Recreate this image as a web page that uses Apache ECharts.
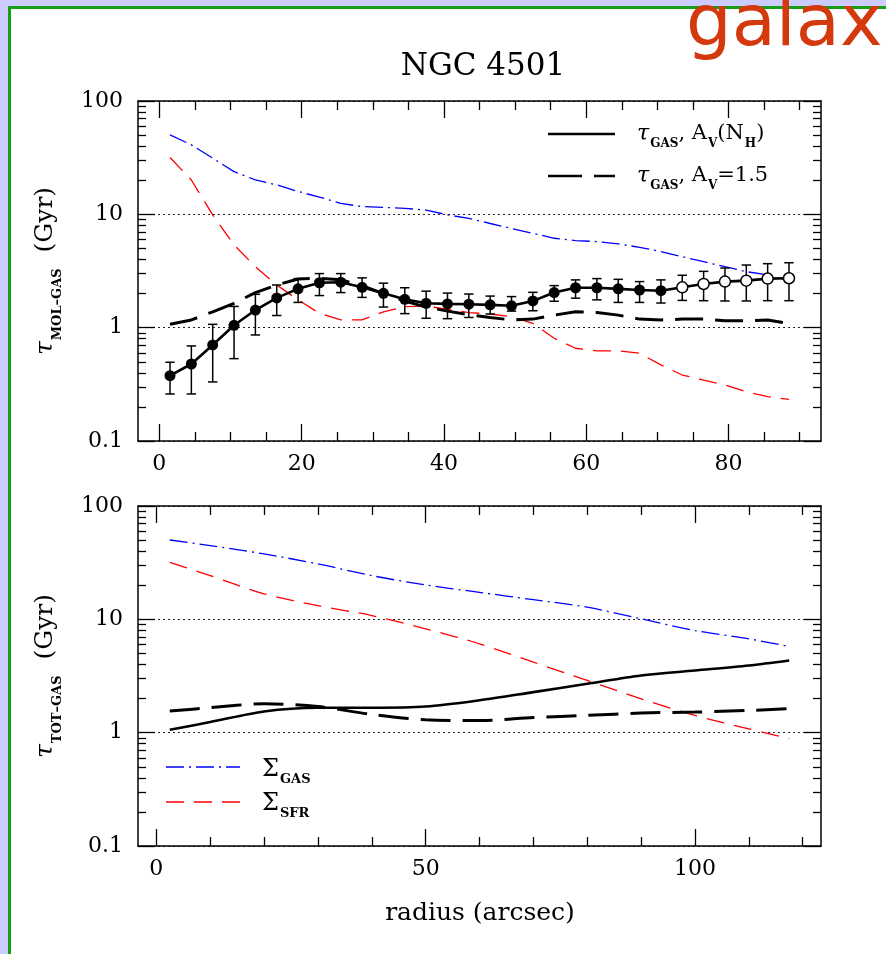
<!DOCTYPE html>
<html><head><meta charset="utf-8">
<script src="https://cdn.jsdelivr.net/npm/echarts@6/dist/echarts.min.js"></script>
<style>
html,body{margin:0;padding:0;background:#ccccff;width:886px;height:954px;overflow:hidden;}
#frame{position:absolute;left:8px;top:6px;width:875px;height:945px;background:#fff;border-left:3px solid #14a014;border-top:3px solid #14a014;}
#chart{position:absolute;left:0;top:0;width:886px;height:954px;}
</style></head>
<body><div id="frame"></div><div id="chart"></div>
<script>
// ---------- data ----------
const radiusTop = [1.5,4.5,7.5,10.5,13.5,16.5,19.5,22.5,25.5,28.5,31.5,34.5,37.5,40.5,43.5,46.5,49.5,52.5,55.5,58.5,61.5,64.5,67.5,70.5,73.5,76.5,79.5,82.5,85.5,88.5];
const tauMol = [0.377,0.478,0.704,1.05,1.43,1.83,2.20,2.49,2.52,2.27,2.01,1.78,1.64,1.62,1.61,1.59,1.56,1.72,2.04,2.25,2.25,2.20,2.15,2.12,2.27,2.43,2.55,2.60,2.71,2.73];
const tauMolLow = [0.26,0.26,0.332,0.533,0.862,1.28,1.67,1.92,2.04,1.85,1.52,1.33,1.21,1.20,1.23,1.32,1.40,1.41,1.71,1.82,1.76,1.67,1.67,1.65,1.74,1.73,1.72,1.72,1.73,1.73];
const tauMolHigh = [0.495,0.69,1.07,1.54,1.97,2.38,2.71,3.0,3.0,2.75,2.47,2.25,2.10,2.02,1.98,1.90,1.88,2.05,2.35,2.64,2.71,2.67,2.55,2.64,2.90,3.14,3.36,3.57,3.67,3.74];
const filledCount = 24; // points after this index are drawn open
const tauMolAv15 = [1.07,1.17,1.38,1.64,2.04,2.38,2.69,2.73,2.65,2.35,2.0,1.72,1.52,1.40,1.30,1.23,1.17,1.19,1.29,1.38,1.36,1.29,1.19,1.17,1.19,1.19,1.15,1.15,1.17,1.09];
const sigmaGasTop = [50.2,41,31.3,23.8,20.1,18.2,15.9,14.2,12.5,11.7,11.5,11.3,10.9,9.9,9.2,8.3,7.5,6.8,6.15,5.86,5.75,5.48,5.12,4.69,4.23,3.82,3.45,3.12,2.92,2.60];
const sigmaSfrTop = [31.7,20.1,9.9,5.37,3.45,2.38,1.76,1.34,1.17,1.17,1.38,1.53,1.55,1.45,1.36,1.32,1.25,1.09,0.806,0.658,0.623,0.625,0.594,0.469,0.382,0.345,0.312,0.272,0.246,0.233];

const radiusBot = [2.5,10,20,30,40,50,60,70,80,90,100,110,117.5];
const sigmaGasBot = [50.1,44.7,37.8,30.8,24.3,20.1,17.3,14.9,12.8,10.1,7.96,6.73,5.75];
const sigmaSfrBot = [31.8,24.3,16.8,13.2,10.8,8.25,6.08,4.19,2.89,1.99,1.42,1.08,0.885];
const tauTot = [1.06,1.24,1.54,1.66,1.66,1.70,1.93,2.28,2.70,3.2,3.54,3.92,4.34];
const tauTotAv15 = [1.55,1.66,1.80,1.70,1.45,1.30,1.28,1.36,1.42,1.49,1.52,1.57,1.63];

const xTicksTop = [0,20,40,60,80];
const xMinorTop = [5,10,15,25,30,35,45,50,55,65,70,75,85,90];
const xTicksBot = [0,50,100];
const xMinorBot = [10,20,30,40,60,70,80,90,110,120];
const yTicks = [0.1,1,10,100];
const yMinor = [0.2,0.3,0.4,0.5,0.6,0.7,0.8,0.9,2,3,4,5,6,7,8,9,20,30,40,50,60,70,80,90];

// ---------- styles ----------
const SERIF = 'DejaVu Serif';
const BLACK = '#000';
const BLUE = '#0000ff';
const RED = '#ff0000';
const zip = (xs, ys) => xs.map((x, i) => [x, ys[i]]);

const lbl = {fontFamily: SERIF, fontSize: 22, color: BLACK};
const lineOn = {show: true, onZero: false, lineStyle: {color: BLACK, width: 1.5}};
const lineOff = {show: false, onZero: false};
const tk = (vals, len) => ({show: true, inside: true, length: len, customValues: vals, lineStyle: {color: BLACK, width: 1.3}});

function xAxesFor(gi, min, max, major, minor) {
  const base = {gridIndex: gi, type: 'value', min: min, max: max, splitLine: {show: false}};
  return [
    Object.assign({}, base, {position: 'bottom', axisLine: lineOn, axisTick: tk(major, 17),
      axisLabel: Object.assign({show: true, customValues: major, margin: 12}, lbl)}),
    Object.assign({}, base, {position: 'bottom', axisLine: lineOff, axisTick: tk(minor, 9), axisLabel: {show: false}}),
    Object.assign({}, base, {position: 'top', axisLine: lineOn, axisTick: tk(major, 17), axisLabel: {show: false}}),
    Object.assign({}, base, {position: 'top', axisLine: lineOff, axisTick: tk(minor, 9), axisLabel: {show: false}})
  ];
}
function yAxesFor(gi) {
  const base = {gridIndex: gi, type: 'log', logBase: 10, min: 0.1, max: 100};
  return [
    Object.assign({}, base, {position: 'left', axisLine: lineOn, axisTick: tk(yTicks, 17),
      splitLine: {show: true, lineStyle: {color: '#222', width: 1, type: [2, 3]}},
      axisLabel: Object.assign({show: true, customValues: yTicks, margin: 15,
        formatter: v => String(Number(Number(v).toPrecision(3)))}, lbl)}),
    Object.assign({}, base, {position: 'left', axisLine: lineOff, axisTick: tk(yMinor, 8), splitLine: {show: false}, axisLabel: {show: false}}),
    Object.assign({}, base, {position: 'right', axisLine: lineOn, axisTick: tk(yTicks, 17), splitLine: {show: false}, axisLabel: {show: false}}),
    Object.assign({}, base, {position: 'right', axisLine: lineOff, axisTick: tk(yMinor, 8), splitLine: {show: false}, axisLabel: {show: false}})
  ];
}

const lineSeries = (name, xi, yi, xs, ys, color, width, type, smooth) => ({
  type: 'line', name: name, xAxisIndex: xi, yAxisIndex: yi, data: zip(xs, ys),
  symbol: 'none', smooth: smooth, silent: true,
  lineStyle: {color: color, width: width, type: type}, z: 3
});

const errData = radiusTop.map((x, i) => [x, tauMolLow[i], tauMolHigh[i]]);
const filledPts = zip(radiusTop, tauMol).slice(0, filledCount);
const openPts = zip(radiusTop, tauMol).slice(filledCount);

// rich text styles
const richBase = {
  t: {fontFamily: SERIF, fontStyle: 'italic', fontSize: 25, lineHeight: 30, verticalAlign: 'top', color: BLACK},
  n: {fontFamily: SERIF, fontSize: 25, lineHeight: 30, verticalAlign: 'top', color: BLACK},
  s: {fontFamily: SERIF, fontWeight: 'bold', fontSize: 13, lineHeight: 15, verticalAlign: 'top', padding: [18, 0, 0, 1], color: BLACK}
};
const richLeg = {
  t: {fontFamily: SERIF, fontStyle: 'italic', fontSize: 22, lineHeight: 26, verticalAlign: 'top', color: BLACK},
  n: {fontFamily: SERIF, fontSize: 21, lineHeight: 26, verticalAlign: 'top', color: BLACK},
  s: {fontFamily: SERIF, fontWeight: 'bold', fontSize: 12, lineHeight: 14, verticalAlign: 'top', padding: [15, 0, 0, 1], color: BLACK},
  bS: {fontFamily: SERIF, fontSize: 24, lineHeight: 28, verticalAlign: 'top', color: BLUE},
  bs: {fontFamily: SERIF, fontWeight: 'bold', fontSize: 13, lineHeight: 15, verticalAlign: 'top', padding: [15, 0, 0, 1], color: BLUE},
  rS: {fontFamily: SERIF, fontSize: 24, lineHeight: 28, verticalAlign: 'top', color: RED},
  rs: {fontFamily: SERIF, fontWeight: 'bold', fontSize: 13, lineHeight: 15, verticalAlign: 'top', padding: [15, 0, 0, 1], color: RED}
};

const option = {
  backgroundColor: 'transparent',
  animation: false,
  title: {text: 'NGC 4501', left: 478, top: 46, textAlign: 'center',
    textStyle: {fontFamily: SERIF, fontSize: 31, fontWeight: 'normal', color: BLACK}},
  grid: [
    {left: 138, top: 101, width: 683, height: 340},
    {left: 138, top: 506, width: 683, height: 340}
  ],
  xAxis: xAxesFor(0, -3, 93, xTicksTop, xMinorTop).concat(xAxesFor(1, -3.4, 123.4, xTicksBot, xMinorBot)),
  yAxis: yAxesFor(0).concat(yAxesFor(1)),
  graphic: [
    {type: 'text', left: 686, top: -10, style: {text: 'galax', fontFamily: 'DejaVu Sans', fontSize: 72, fill: '#d4380d'}, z: 10},
    {type: 'text', x: 48, y: 271, rotation: Math.PI / 2,
      style: {text: '{t|τ}{s|MOL–GAS}{n|  (Gyr)}', rich: richBase, align: 'center', verticalAlign: 'middle'}},
    {type: 'text', x: 48, y: 676, rotation: Math.PI / 2,
      style: {text: '{t|τ}{s|TOT–GAS}{n|  (Gyr)}', rich: richBase, align: 'center', verticalAlign: 'middle'}},
    {type: 'text', x: 480, y: 913, style: {text: 'radius (arcsec)', fontFamily: SERIF, fontSize: 25, fill: BLACK, align: 'center', verticalAlign: 'middle'}},
    // top legend
    {type: 'line', shape: {x1: 548, y1: 134, x2: 615, y2: 134}, style: {stroke: BLACK, lineWidth: 2.6}},
    {type: 'line', shape: {x1: 548, y1: 176, x2: 615, y2: 176}, style: {stroke: BLACK, lineWidth: 2.6, lineDash: [34, 12]}},
    {type: 'text', x: 637, y: 136, style: {text: '{t|τ}{s|GAS}{n|, A}{s|V}{n|(N}{s|H}{n|)}', rich: richLeg, verticalAlign: 'middle'}},
    {type: 'text', x: 637, y: 178, style: {text: '{t|τ}{s|GAS}{n|, A}{s|V}{n|=1.5}', rich: richLeg, verticalAlign: 'middle'}},
    // bottom legend
    {type: 'line', shape: {x1: 166, y1: 767, x2: 240, y2: 767}, style: {stroke: BLUE, lineWidth: 1.3, lineDash: [18, 5, 2, 5]}},
    {type: 'line', shape: {x1: 166, y1: 802, x2: 240, y2: 802}, style: {stroke: RED, lineWidth: 1.3, lineDash: [18, 10]}},
    {type: 'text', x: 262, y: 772, style: {text: '{bS|Σ}{bs|GAS}', rich: richLeg, verticalAlign: 'middle'}},
    {type: 'text', x: 262, y: 806, style: {text: '{rS|Σ}{rs|SFR}', rich: richLeg, verticalAlign: 'middle'}}
  ],
  series: [
    lineSeries('SigmaGas', 0, 0, radiusTop, sigmaGasTop, BLUE, 1.3, [18, 5, 2, 5], false),
    lineSeries('SigmaSfr', 0, 0, radiusTop, sigmaSfrTop, RED, 1.3, [18, 10], false),
    lineSeries('Av15', 0, 0, radiusTop, tauMolAv15, BLACK, 3, [28, 12], false),
    lineSeries('AvNH', 0, 0, radiusTop, tauMol, BLACK, 2.6, 'solid', false),
    {
      type: 'custom', xAxisIndex: 0, yAxisIndex: 0, data: errData, silent: true, z: 4,
      encode: {x: 0, y: [1, 2]},
      renderItem: function (params, api) {
        const x = api.value(0);
        const pLo = api.coord([x, api.value(1)]);
        const pHi = api.coord([x, api.value(2)]);
        const hw = 4.7;
        const st = {stroke: BLACK, lineWidth: 1.5};
        return {type: 'group', children: [
          {type: 'line', shape: {x1: pLo[0], y1: pLo[1], x2: pHi[0], y2: pHi[1]}, style: st},
          {type: 'line', shape: {x1: pLo[0] - hw, y1: pLo[1], x2: pLo[0] + hw, y2: pLo[1]}, style: st},
          {type: 'line', shape: {x1: pHi[0] - hw, y1: pHi[1], x2: pHi[0] + hw, y2: pHi[1]}, style: st}
        ]};
      }
    },
    {type: 'scatter', xAxisIndex: 0, yAxisIndex: 0, data: filledPts, symbol: 'circle', symbolSize: 11, silent: true, z: 5,
      itemStyle: {color: BLACK, opacity: 1}},
    {type: 'scatter', xAxisIndex: 0, yAxisIndex: 0, data: openPts, symbol: 'circle', symbolSize: 11, silent: true, z: 5,
      itemStyle: {color: '#fff', borderColor: BLACK, borderWidth: 1.5, opacity: 1}},

    lineSeries('SigmaGasB', 4, 4, radiusBot, sigmaGasBot, BLUE, 1.3, [18, 5, 2, 5], 0.3),
    lineSeries('SigmaSfrB', 4, 4, radiusBot, sigmaSfrBot, RED, 1.3, [18, 10], 0.3),
    lineSeries('TotNH', 4, 4, radiusBot, tauTot, BLACK, 2.6, 'solid', 0.3),
    lineSeries('TotAv15', 4, 4, radiusBot, tauTotAv15, BLACK, 3, [30, 12], 0.3)
  ]
};

const chart = echarts.init(document.getElementById('chart'), null, {renderer: 'canvas'});
chart.setOption(option);
</script>
</body></html>
